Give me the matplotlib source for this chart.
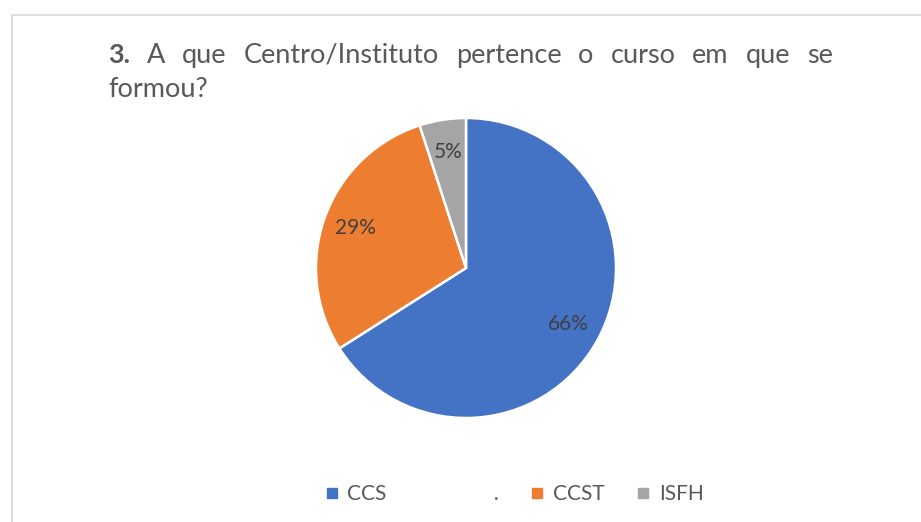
import matplotlib
matplotlib.use("Agg")
import matplotlib.pyplot as plt
from matplotlib.patches import Rectangle
from matplotlib.lines import Line2D

# data
labels = ["CCS", "CCST", "ISFH"]
values = [66, 29, 5]
colors = ["#4472C4", "#ED7D31", "#A5A5A5"]
title_bold = "3."
title_line1 = "A que Centro/Instituto pertence o curso em que se"
title_line2 = "formou?"

plt.rcParams["font.family"] = ["Lato", "DejaVu Sans"]
txt_color = "#595959"

W, H = 921, 522
fig = plt.figure(figsize=(W / 100, H / 100), dpi=100)

# light frame around the chart area
fig.patches.append(Rectangle((12 / W, -0.1), 1.2, (H - 15) / H + 0.1,
                             transform=fig.transFigure, fill=False,
                             edgecolor="#D9D9D9", linewidth=1.3))

# pie
cx, cy, r = 466, 268, 150
ax = fig.add_axes([(cx - r) / W, (H - cy - r) / H, 2 * r / W, 2 * r / H])
wedges, _, autotexts = ax.pie(values, colors=colors, startangle=90, counterclock=False,
                              autopct="%1.0f%%", pctdistance=0.78,
                              wedgeprops=dict(edgecolor="white", linewidth=1.8),
                              textprops=dict(color="#404040", fontsize=15))
ax.set_xlim(-1, 1)
ax.set_ylim(-1, 1)

# justified title, line 1
fs_title = 19.5
x0, x1, y1 = 108 / W, 833 / W, 1 - 63 / H
words = [(title_bold, "bold")] + [(w, "normal") for w in title_line1.split()]
renderer = fig.canvas.get_renderer()
objs = []
for w, weight in words:
    t = fig.text(0, y1, w, fontsize=fs_title, fontweight=weight, color=txt_color, va="baseline")
    objs.append(t)
widths = [t.get_window_extent(renderer).width / W for t in objs]
gap = (x1 - x0 - sum(widths)) / (len(objs) - 1)
xx = x0
for t, wd in zip(objs, widths):
    t.set_x(xx)
    xx += wd + gap
fig.text(x0, 1 - 97 / H, title_line2, fontsize=fs_title, color=txt_color, va="baseline")

# legend
handles = [Line2D([], [], marker="s", linestyle="", markersize=7, color=c) for c in colors]
leg_labels = [labels[0] + " " * 20 + ".", labels[1], labels[2]]
leg = fig.legend(handles, leg_labels, loc="center", bbox_to_anchor=(0.558, 1 - 494 / H),
                 ncol=3, frameon=False, fontsize=15, handlelength=0.7, handletextpad=0.4,
                 columnspacing=1.5, labelcolor=txt_color)

fig.savefig("out.png", dpi=100, facecolor="white")
